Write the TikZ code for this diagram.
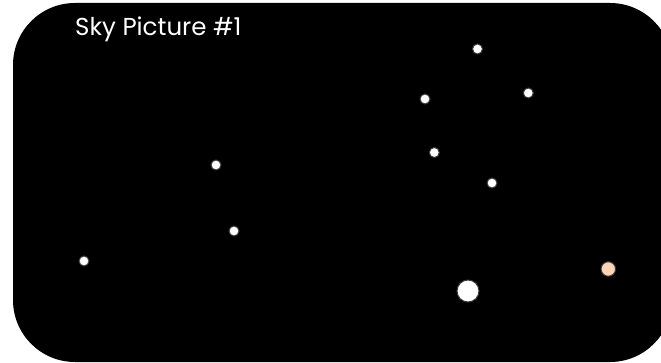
\documentclass[tikz,border=0pt]{standalone}
\usepackage{fontspec}
\setmainfont{Poppins}
\definecolor{peach}{HTML}{FFD5B5}
\definecolor{ring}{HTML}{3A3A3A}
\begin{document}
\begin{tikzpicture}[x=1pt,y=-1pt,
  star/.style={circle,fill=white,draw=ring,line width=1pt,inner sep=0pt,minimum size=10pt},
  bigstar/.style={star,minimum size=22pt},
  redstar/.style={star,fill=peach,minimum size=14.5pt}]
\useasboundingbox (0,0) rectangle (661,363);
\begin{scope}
\clip (0,0) rectangle (661,363);
\fill[black,rounded corners=62pt] (13,3) rectangle (672,362);
\end{scope}
\node[anchor=base west,text=white,font=\fontsize{24.5}{26}\selectfont,inner sep=0pt] (title) at (75,36) {Sky Picture \#1};
\node[star] (s1) at (477.5,49) {};
\node[star] (s2) at (425,99) {};
\node[star] (s3) at (528.3,93) {};
\node[star] (s4) at (434.3,152.5) {};
\node[star] (s5) at (492,183) {};
\node[star] (s6) at (216,165) {};
\node[star] (s7) at (234,231) {};
\node[star] (s8) at (84,261) {};
\node[bigstar] (s9) at (468,291) {};
\node[redstar] (s10) at (608.3,269) {};
\end{tikzpicture}
\end{document}
